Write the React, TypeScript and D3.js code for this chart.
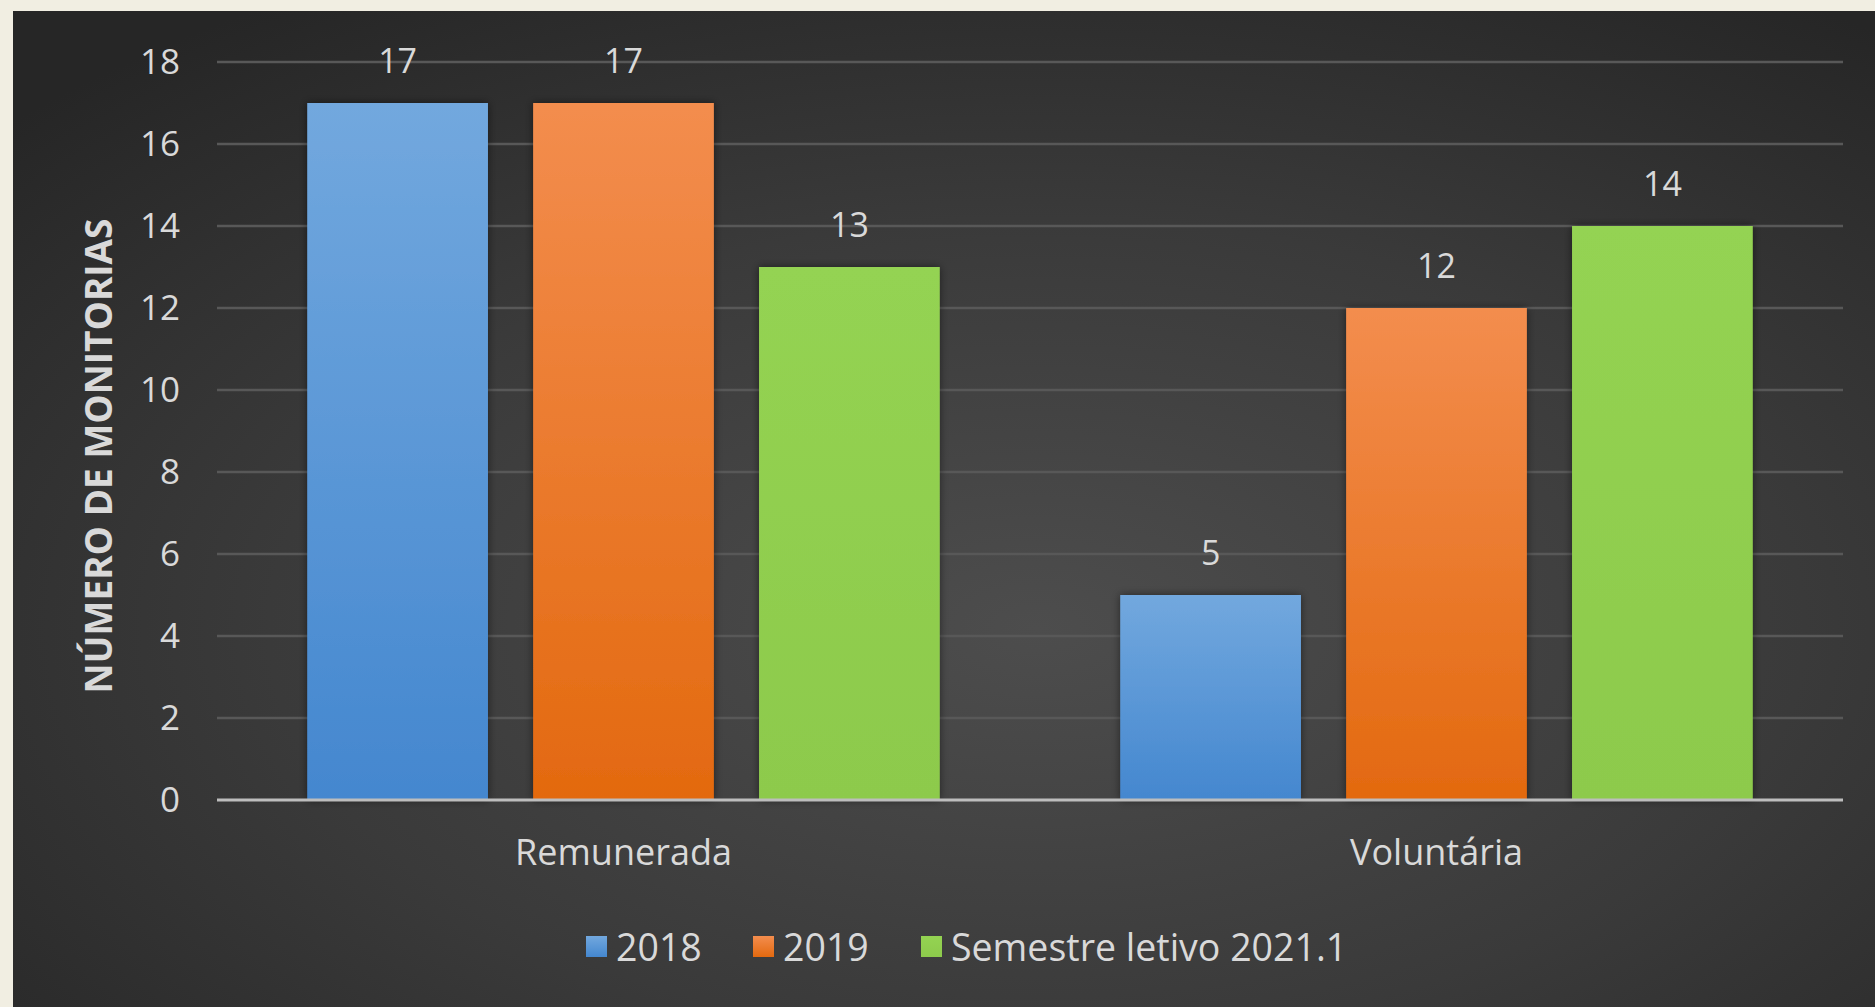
import React from "react";
import * as d3 from "d3";

const categories = ["Remunerada", "Voluntária"];
const seriesNames = ["2018", "2019", "Semestre letivo 2021.1"];
const values2018 = [17, 5];
const values2019 = [17, 12];
const values2021 = [13, 14];
const yTicks = [0, 2, 4, 6, 8, 10, 12, 14, 16, 18];
const yTitle = "NÚMERO DE MONITORIAS";

const seriesValues = [values2018, values2019, values2021];
const topColors = ["#72a8de", "#f38d4e", "#94d352"];
const bottomColors = ["#4487cf", "#e3690f", "#8dca4c"];

const W = 1875;
const H = 1007;
const FONT = "'Open Sans', 'DejaVu Sans', sans-serif";

export default function App() {
  const x0 = d3.scaleBand<string>().domain(categories).range([217, 1843]).padding(0);
  const groupPad = x0.bandwidth() * 0.111;
  const x1 = d3
    .scaleBand<string>()
    .domain(seriesNames)
    .range([groupPad, x0.bandwidth() - groupPad])
    .paddingInner(0.2)
    .paddingOuter(0);
  const y = d3.scaleLinear().domain([0, 18]).range([800, 62]);

  return (
    <svg
      width={W}
      height={H}
      style={{ position: "absolute", left: 0, top: 0, display: "block" }}
      fontFamily={FONT}
    >
      <defs>
        <radialGradient id="bg" cx="0.55" cy="0.62" r="0.75" fx="0.55" fy="0.62">
          <stop offset="0" stopColor="#4d4d4d" />
          <stop offset="0.55" stopColor="#3a3a3a" />
          <stop offset="1" stopColor="#262626" />
        </radialGradient>
        {seriesNames.map((s, i) => (
          <linearGradient key={s} id={`g${i}`} x1="0" y1="0" x2="0" y2="1">
            <stop offset="0" stopColor={topColors[i]} />
            <stop offset="1" stopColor={bottomColors[i]} />
          </linearGradient>
        ))}
        <filter id="shadow" x="-10%" y="-10%" width="120%" height="120%">
          <feDropShadow dx="0" dy="0" stdDeviation="4" floodColor="#000" floodOpacity="0.5" />
        </filter>
      </defs>
      <rect x={0} y={0} width={W} height={H} fill="#f1eee2" />
      <rect x={13} y={11} width={W - 13} height={H - 11} fill="url(#bg)" />

      {/* gridlines */}
      {yTicks.map((t) =>
        t === 0 ? null : (
          <line
            key={t}
            x1={217}
            x2={1843}
            y1={y(t)}
            y2={y(t)}
            stroke="#585858"
            strokeWidth={2.5}
          />
        )
      )}

      {/* y tick labels */}
      {yTicks.map((t) => (
        <text
          key={`l${t}`}
          x={180}
          y={y(t)}
          dy="0.35em"
          textAnchor="end"
          fill="#d9d9d9"
          fontSize={35}
        >
          {t}
        </text>
      ))}

      {/* y title */}
      <text
        transform={`translate(${99},${456}) rotate(-90)`}
        textAnchor="middle"
        dy="0.35em"
        fill="#d9d9d9"
        fontSize={37}
        fontWeight="bold"
      >
        {yTitle}
      </text>

      {/* bars */}
      {categories.map((c, ci) => (
        <g key={c} transform={`translate(${x0(c)},0)`}>
          {seriesNames.map((s, si) => {
            const v = seriesValues[si][ci];
            const bx = x1(s) as number;
            return (
              <g key={s}>
                <rect
                  x={bx}
                  y={y(v)}
                  width={x1.bandwidth()}
                  height={y(0) - y(v)}
                  fill={`url(#g${si})`}
                  filter="url(#shadow)"
                />
                <text
                  x={bx + x1.bandwidth() / 2}
                  y={y(v) - 30}
                  textAnchor="middle"
                  fill="#d9d9d9"
                  fontSize={34}
                >
                  {v}
                </text>
              </g>
            );
          })}
          <text
            x={x0.bandwidth() / 2}
            y={865}
            textAnchor="middle"
            fill="#d9d9d9"
            fontSize={36}
          >
            {c}
          </text>
        </g>
      ))}

      {/* zero axis line */}
      <line x1={217} x2={1843} y1={y(0)} y2={y(0)} stroke="#bdbdbd" strokeWidth={3} />

      {/* legend */}
      {(() => {
        const starts = [586, 753, 921];
        return seriesNames.map((s, i) => (
          <g key={s}>
            <rect x={starts[i]} y={936} width={21} height={21} fill={`url(#g${i})`} />
            <text x={starts[i] + 30} y={961} fill="#d9d9d9" fontSize={37.5}>
              {s}
            </text>
          </g>
        ));
      })()}
    </svg>
  );
}
